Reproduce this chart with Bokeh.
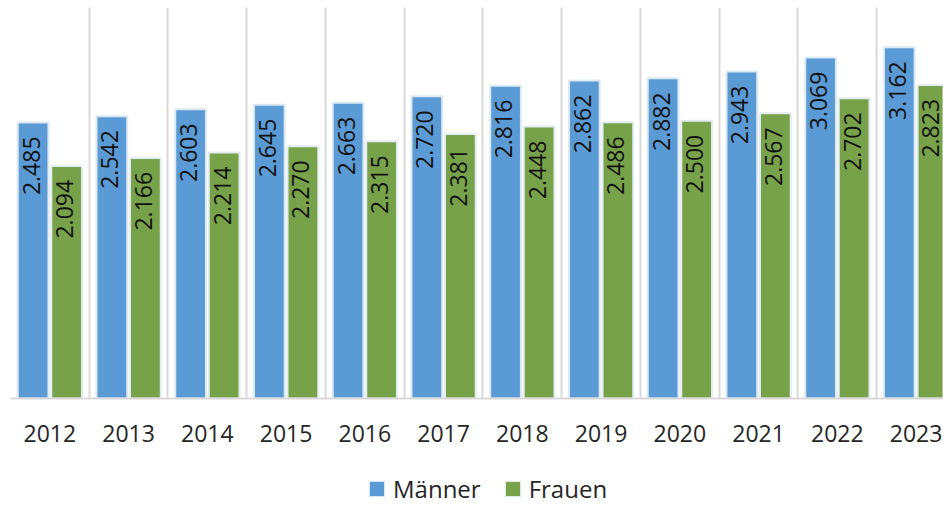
from math import pi
from bokeh.plotting import figure
from bokeh.layouts import column
from bokeh.models import ColumnDataSource, Range1d, FixedTicker, Legend, LegendItem
from bokeh.core.properties import value
from bokeh.embed import file_html
from bokeh.resources import INLINE

years = ["2012", "2013", "2014", "2015", "2016", "2017", "2018", "2019", "2020", "2021", "2022", "2023"]
maenner = [2485, 2542, 2603, 2645, 2663, 2720, 2816, 2862, 2882, 2943, 3069, 3162]
frauen = [2094, 2166, 2214, 2270, 2315, 2381, 2448, 2486, 2500, 2567, 2702, 2823]
series = ["Männer", "Frauen"]

def fmt(v):
    return f"{v:,}".replace(",", ".")

BLUE = "#5B9BD5"
GREEN = "#78A24A"
FONT = "Open Sans"
DODGE = 0.213
BW = 0.39

idx = list(range(len(years)))
src_m = ColumnDataSource(dict(x=[i + 0.5 - DODGE for i in idx], top=maenner, lab=[fmt(v) for v in maenner]))
src_f = ColumnDataSource(dict(x=[i + 0.5 + DODGE for i in idx], top=frauen, lab=[fmt(v) for v in frauen]))

p = figure(width=943, height=456, output_backend="svg", toolbar_location=None,
           x_range=Range1d(0, 11.848), y_range=Range1d(0, 3520),
           min_border_left=10, min_border_right=0, min_border_top=7, min_border_bottom=58)
p.outline_line_color = None
p.background_fill_color = "white"
p.border_fill_color = "white"

rm = p.vbar(x="x", top="top", width=BW, source=src_m, fill_color=BLUE, line_color="#DCE9F5", line_width=2)
rf = p.vbar(x="x", top="top", width=BW, source=src_f, fill_color=GREEN, line_color="#E2ECF3", line_width=2)

for s in (src_m, src_f):
    p.text(x="x", y="top", text="lab", source=s, angle=pi / 2, text_align="right", text_baseline="middle",
           x_offset=-2, y_offset=14, text_line_height=1.0,
           text_font=value(FONT), text_font_size="23px", text_color="#111111")

p.yaxis.visible = False
p.ygrid.visible = False
p.xgrid.ticker = FixedTicker(ticks=list(range(len(years) + 1)))
p.xgrid.grid_line_color = "#D9D9D9"
p.xgrid.grid_line_width = 2

ax = p.xaxis[0]
ax.ticker = FixedTicker(ticks=[i + 0.5 for i in idx])
ax.major_label_overrides = {i + 0.5: y for i, y in zip(idx, years)}
ax.major_tick_line_color = None
ax.minor_tick_line_color = None
ax.axis_line_color = "#D9D9D9"
ax.axis_line_width = 2
ax.major_label_standoff = 20
ax.major_label_text_font = FONT
ax.major_label_text_font_size = "23px"
ax.major_label_text_color = "#262626"

# legend figure
lg = figure(width=943, height=49, output_backend="svg", toolbar_location=None,
            x_range=Range1d(0, 1), y_range=Range1d(0, 1),
            min_border_left=0, min_border_right=0, min_border_top=0, min_border_bottom=0)
lg.axis.visible = False
lg.grid.visible = False
lg.outline_line_color = None
dm = lg.vbar(x=[-5], top=[-5], width=0.1, fill_color=BLUE, line_color="#DCE9F5", line_width=1)
df = lg.vbar(x=[-5], top=[-5], width=0.1, fill_color=GREEN, line_color="#E2ECF3", line_width=1)
legend = Legend(items=[LegendItem(label=series[0], renderers=[dm]), LegendItem(label=series[1], renderers=[df])],
                orientation="horizontal", location=(357, 0))
legend.label_text_font = FONT
legend.label_text_font_size = "24px"
legend.label_text_color = "#262626"
legend.glyph_width = 19
legend.glyph_height = 19
legend.label_standoff = 7
legend.spacing = 22
legend.border_line_color = None
legend.background_fill_alpha = 0
legend.margin = 0
legend.padding = 0
lg.add_layout(legend, "center")

open("out.html", "w").write(file_html(column(p, lg, spacing=0), INLINE))
